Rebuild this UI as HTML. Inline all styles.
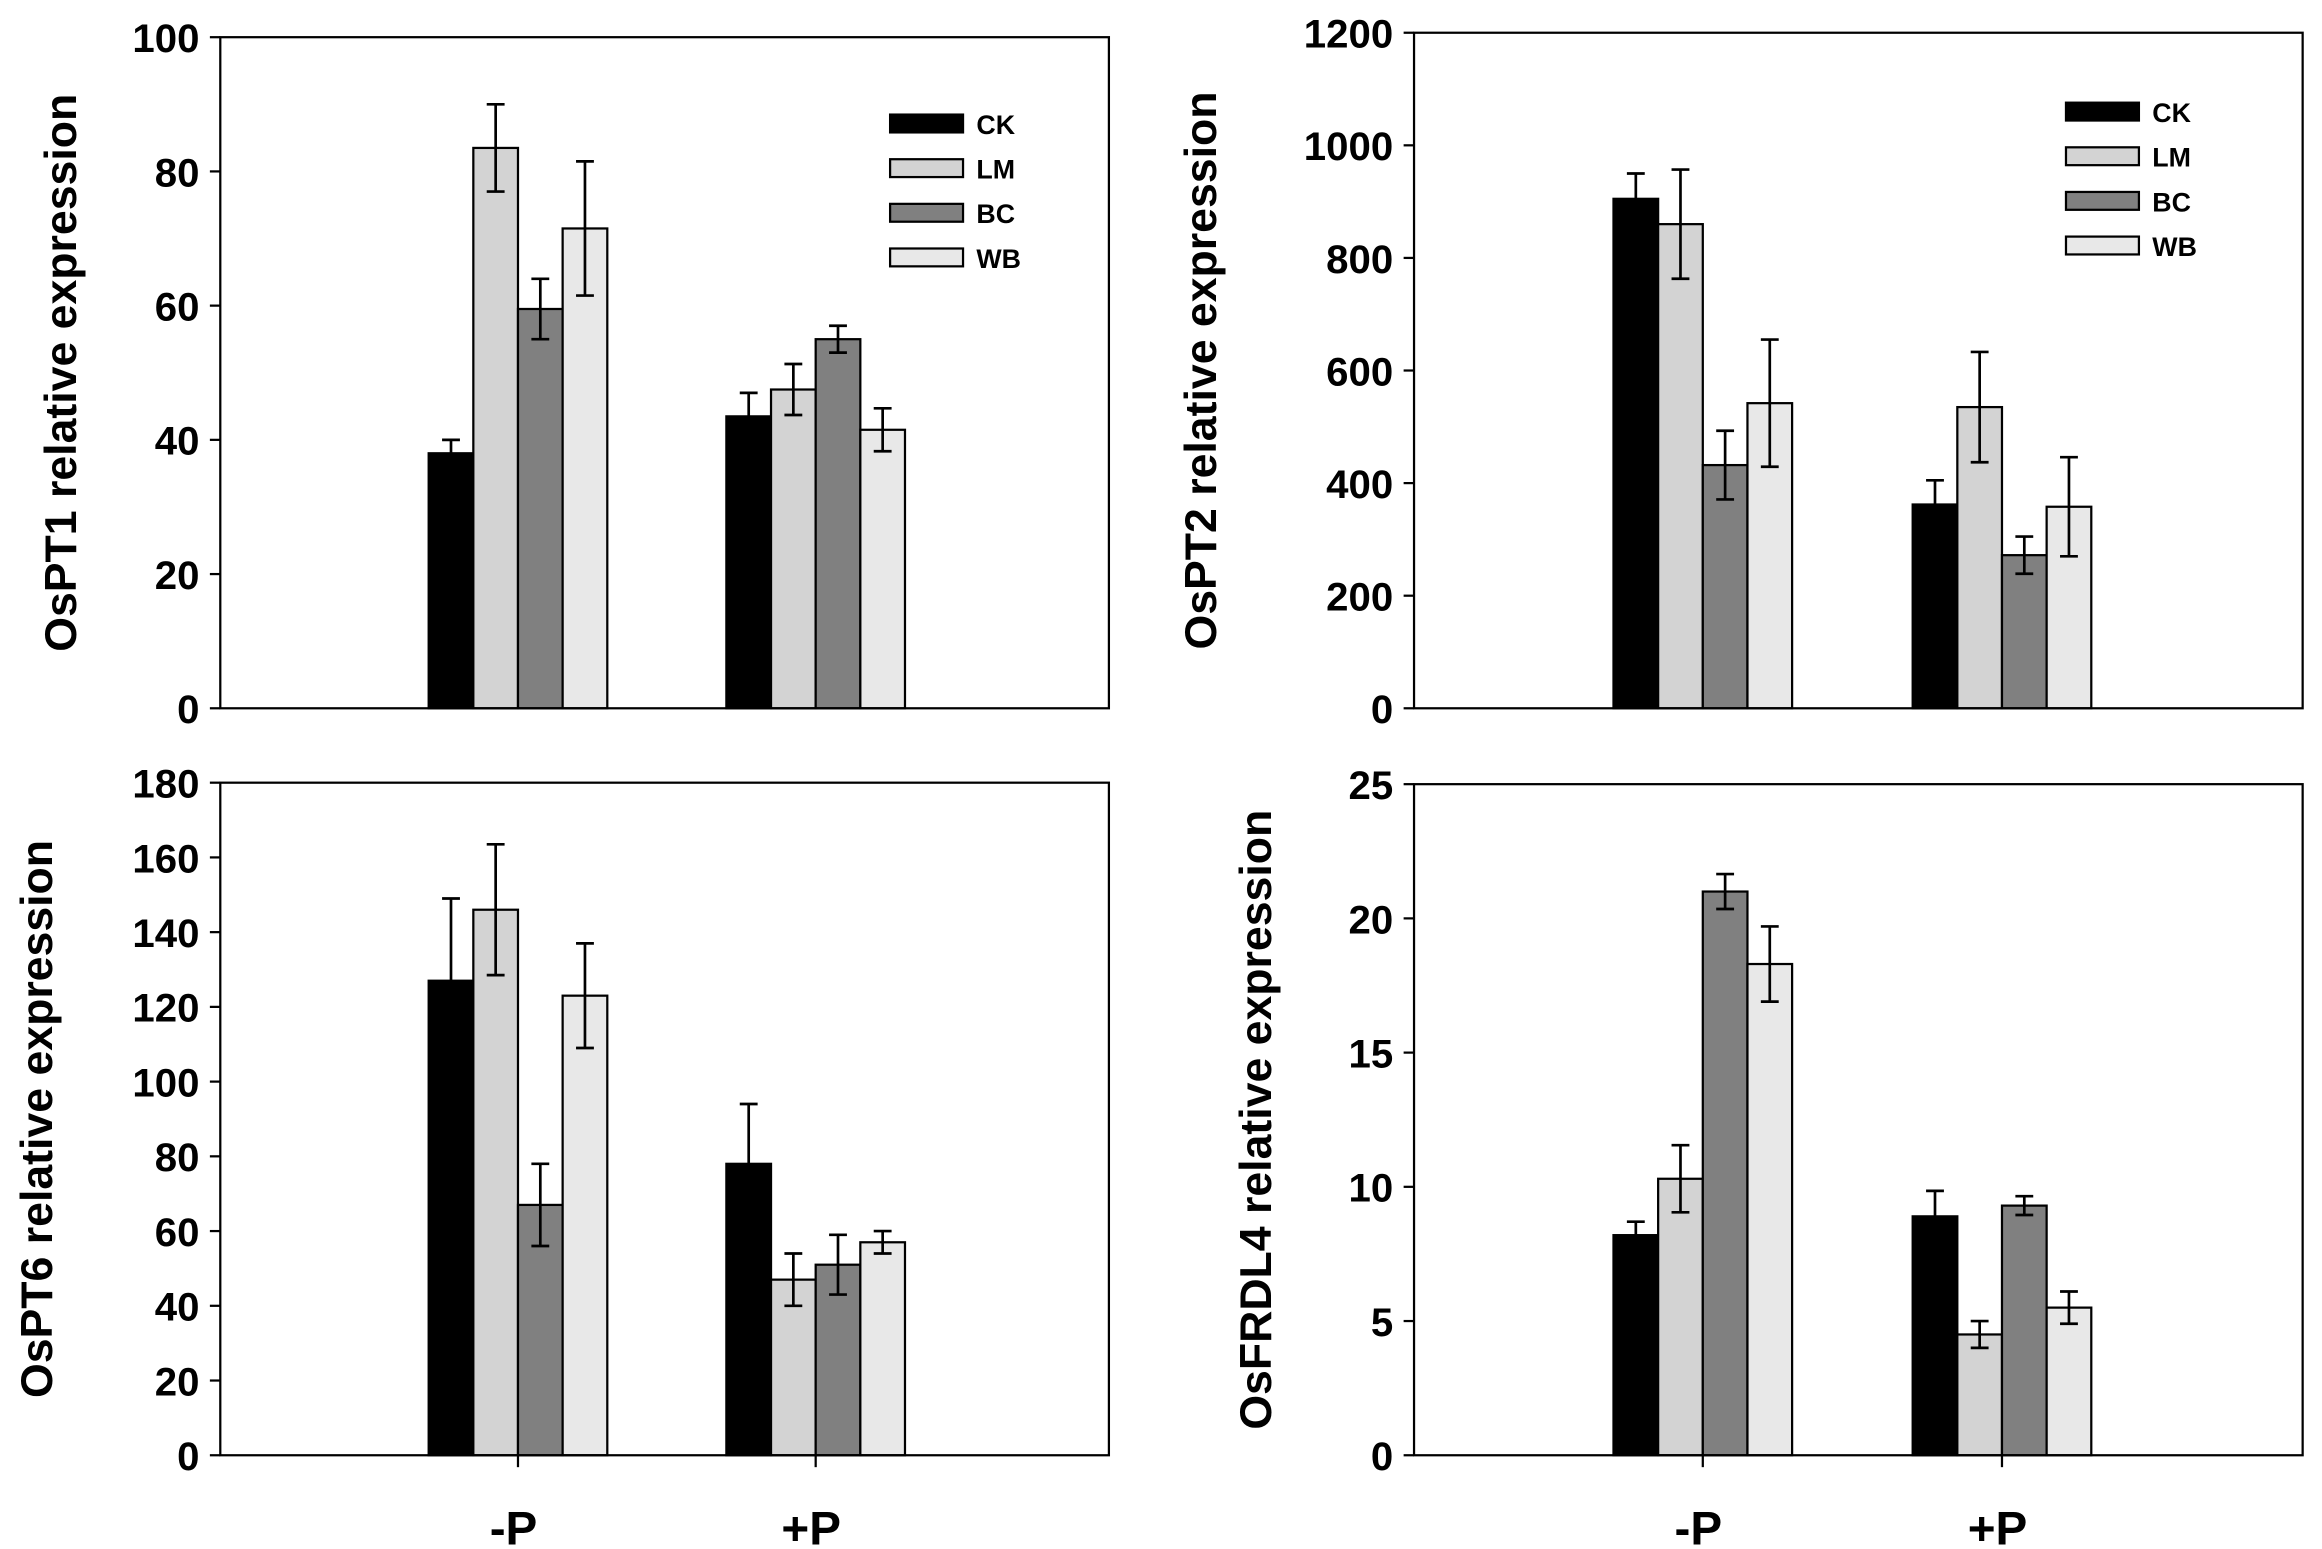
<!DOCTYPE html>
<html><head><meta charset="utf-8">
<style>html,body{margin:0;padding:0;background:#fff}svg{display:block}</style></head>
<body>
<svg id="s" width="2322" height="1549" viewBox="0 0 1560 1041" preserveAspectRatio="none" xmlns="http://www.w3.org/2000/svg" font-family="Liberation Sans, Arial, sans-serif" font-weight="bold"></svg>
<script>
const svg=document.getElementById('s');
let h='';
const cols=['#000','#d3d3d3','#808080','#e8e8e8'];
const panels=[
 {L:148,R:745,T:25,B:476,max:100,step:20,lab:'OsPT1 relative expression',lx:40,g:[288,488],
  v:[[38,83.5,59.5,71.5],[43.5,47.5,55,41.5]],e:[[2,6.5,4.5,10],[3.5,3.8,2,3.2]],leg:[598,83],xl:false},
 {L:950,R:1547,T:22,B:476,max:1200,step:200,lab:'OsPT2 relative expression',lx:806,g:[1084,1285],
  v:[[905,860,432,542],[362,535,272,358]],e:[[45,97,61,113],[43,98,33,88]],leg:[1388,75],xl:false},
 {L:148,R:745,T:526,B:978,max:180,step:20,lab:'OsPT6 relative expression',lx:24,g:[288,488],
  v:[[127,146,67,123],[78,47,51,57]],e:[[22,17.5,11,14],[16,7,8,3]],xl:true},
 {L:950,R:1547,T:527,B:978,max:25,step:5,lab:'OsFRDL4 relative expression',lx:843,g:[1084,1285],
  v:[[8.2,10.3,21,18.3],[8.9,4.5,9.3,5.5]],e:[[0.5,1.25,0.65,1.4],[0.95,0.5,0.35,0.6]],xl:true}
];
panels.forEach(p=>{
  const sy=v=>p.B-(v/p.max)*(p.B-p.T);
  p.g.forEach((gx,gi)=>{
    for(let i=0;i<4;i++){
      const x=gx+i*30, y=sy(p.v[gi][i]);
      h+=`<rect x="${x}" y="${y}" width="30" height="${p.B-y}" fill="${cols[i]}" stroke="#000" stroke-width="1.5"/>`;
      const cx=x+15, y1=sy(p.v[gi][i]+p.e[gi][i]), y2=sy(p.v[gi][i]-p.e[gi][i]);
      h+=`<path d="M${cx} ${y1}V${y2}M${cx-6} ${y1}H${cx+6}M${cx-6} ${y2}H${cx+6}" stroke="#000" stroke-width="1.8" fill="none"/>`;
    }
  });
  h+=`<rect x="${p.L}" y="${p.T}" width="${p.R-p.L}" height="${p.B-p.T}" fill="none" stroke="#000" stroke-width="1.5"/>`;
  for(let v=0;v<=p.max;v+=p.step){
    const y=sy(v);
    h+=`<line x1="${p.L-7}" y1="${y}" x2="${p.L}" y2="${y}" stroke="#000" stroke-width="1.5"/>`;
    h+=`<text x="${p.L-14}" y="${y+10}" font-size="27" text-anchor="end">${v}</text>`;
  }
  const cy=(p.T+p.B)/2;
  h+=`<text transform="translate(${p.lx+11},${cy}) rotate(-90)" font-size="30" text-anchor="middle">${p.lab}</text>`;
  if(p.xl){
    p.g.forEach((gx,i)=>{
      const c=gx+60;
      h+=`<line x1="${c}" y1="${p.B}" x2="${c}" y2="${p.B+8}" stroke="#000" stroke-width="1.5"/>`;
      h+=`<text x="${c-3}" y="${p.B+60}" font-size="32" text-anchor="middle">${i?'+P':'-P'}</text>`;
    });
  }
  if(p.leg){
    ['CK','LM','BC','WB'].forEach((n,i)=>{
      const y=p.leg[1]+i*30;
      h+=`<rect x="${p.leg[0]}" y="${y-6}" width="49" height="12" fill="${cols[i]}" stroke="#000" stroke-width="1.5"/>`;
      h+=`<text x="${p.leg[0]+58}" y="${y+7}" font-size="18">${n}</text>`;
    });
  }
});
svg.innerHTML=h;
</script>
</body></html>
